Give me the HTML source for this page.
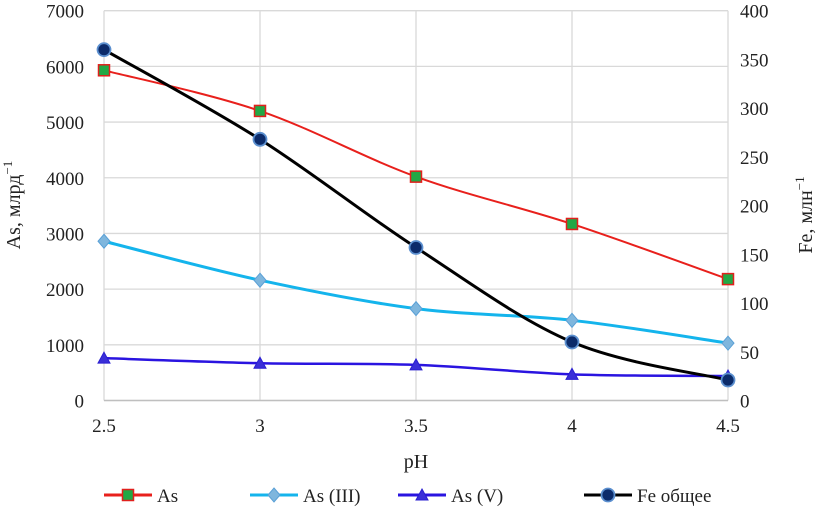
<!DOCTYPE html>
<html><head><meta charset="utf-8"><style>
body{margin:0;background:#fff;width:830px;height:511px;overflow:hidden}
svg,svg text{font-family:"Liberation Serif","Times New Roman","DejaVu Serif",serif;fill:#222}
</style></head><body>
<svg id="chart" font-family="Liberation Serif, Times New Roman, serif" width="830" height="511" viewBox="0 0 830 511" xmlns="http://www.w3.org/2000/svg">
<g id="grid"></g>
<g id="axes"></g>
<g id="series"></g>
<text x="20" y="205" font-size="20" text-anchor="middle" transform="rotate(-90 20 205)">As, млрд<tspan dy="-8" font-size="13">−1</tspan></text>
<text x="812" y="215" font-size="20" text-anchor="middle" transform="rotate(-90 812 215)">Fe, млн<tspan dy="-8" font-size="13">−1</tspan></text>
<text x="416" y="468" font-size="20" text-anchor="middle">pH</text>
<g id="legend"></g>
</svg>
<script>
const categories=[2.5,3,3.5,4,4.5];
const asTotal=[5930,5200,4020,3170,2180];
const as3=[2860,2160,1650,1440,1030];
const as5=[760,670,640,470,440];
const feTotal=[360,268,157,60,21];
const leftTicks=[0,1000,2000,3000,4000,5000,6000,7000];
const rightTicks=[0,50,100,150,200,250,300,350,400];
const xTickLabels=["2.5","3","3.5","4","4.5"];
const NS="http://www.w3.org/2000/svg";
const FF='"Liberation Serif", "Times New Roman", serif';
const L=104,R=728,T=10.7,B=400.5;
const xs=v=>L+(v-2.5)/2*(R-L);
const yl=v=>B-v/7000*(B-T);
const yr=v=>B-v/400*(B-T);
function mk(t,a,p){const e=document.createElementNS(NS,t);for(const k in a)e.setAttribute(k,a[k]);if(t==='text'){e.setAttribute('font-family',FF);e.style.fontFamily=FF;}p.appendChild(e);return e;}
const grid=document.getElementById('grid'),axes=document.getElementById('axes'),ser=document.getElementById('series'),leg=document.getElementById('legend');
leftTicks.forEach(v=>{const y=yl(v);
 const g=mk('line',{x1:L,x2:R,y1:y,y2:y,stroke:'#d9d9d9','stroke-width':1.3},grid);
 
 const t=mk('text',{x:L-20,y:y+7,'font-size':19,'text-anchor':'end'},axes);t.textContent=v;
 });
rightTicks.forEach(v=>{const t=mk('text',{x:R+12,y:yr(v)+7,'font-size':19},axes);t.textContent=v;
 });
categories.forEach((c,i)=>{const x=xs(c);
 const g=mk('line',{x1:x,x2:x,y1:T,y2:B,stroke:'#d9d9d9','stroke-width':1.3},grid);
 
 const t=mk('text',{x:x,y:432,'font-size':19,'text-anchor':'middle'},axes);t.textContent=xTickLabels[i];
 });
const ax=mk('line',{x1:L,x2:R,y1:B,y2:B,stroke:'#bfbfbf','stroke-width':1.5},axes);

function smooth(pts){let d=`M${pts[0][0]},${pts[0][1]}`;
 for(let i=0;i<pts.length-1;i++){const p0=pts[i-1]||pts[i],p1=pts[i],p2=pts[i+1],p3=pts[i+2]||p2;
  const c1=[p1[0]+(p2[0]-p0[0])/6,p1[1]+(p2[1]-p0[1])/6],c2=[p2[0]-(p3[0]-p1[0])/6,p2[1]-(p3[1]-p1[1])/6];
  d+=`C${c1},${c2},${p2}`;}return d;}
function marker(type,x,y,p,col){let e;
 if(type==='sq')e=mk('rect',{x:x-5.5,y:y-5.5,width:11,height:11,fill:'#22a845',stroke:'#e0201c','stroke-width':1.5},p);
 else if(type==='di')e=mk('polygon',{points:`${x},${y-7} ${x+6},${y} ${x},${y+7} ${x-6},${y}`,fill:'#7fb6dd',stroke:'#5aa0d6','stroke-width':1},p);
 else if(type==='tr')e=mk('polygon',{points:`${x},${y-6} ${x+6},${y+5} ${x-6},${y+5}`,fill:'#3a2fd8',stroke:'#2a1fd0','stroke-width':1},p);
 else e=mk('circle',{cx:x,cy:y,r:6.5,fill:'#0c2b6a',stroke:'#5b8fcf','stroke-width':1.8},p);
 return e;}
const defs=[
 {name:'as-total',data:asTotal,y:yl,col:'#e8201c',w:2,m:'sq',label:'As'},
 {name:'as-iii',data:as3,y:yl,col:'#14b4ec',w:3,m:'di',label:'As (III)'},
 {name:'as-v',data:as5,y:yl,col:'#2a14e0',w:2.5,m:'tr',label:'As (V)'},
 {name:'fe-total',data:feTotal,y:yr,col:'#000',w:3,m:'ci',label:'Fe общее'}];
defs.forEach(s=>{const g=mk('g',{},ser);
 const pts=s.data.map((v,i)=>[xs(categories[i]),s.y(v)]);
 const p=mk('path',{d:smooth(pts),fill:'none',stroke:s.col,'stroke-width':s.w},g);
 
 pts.forEach(q=>{const e=marker(s.m,q[0],q[1],g,s.col);
  });});
const lx=[104,250,398,584];
defs.forEach((s,i)=>{const g=mk('g',{},leg);
 const x=lx[i],y=495;mk('line',{x1:x,x2:x+48,y1:y,y2:y,stroke:s.col,'stroke-width':3},g);
 marker(s.m,x+24,y,g,s.col);const t=mk('text',{x:x+53,y:y+7,'font-size':19},g);t.textContent=s.label;});
</script>
</body></html>
